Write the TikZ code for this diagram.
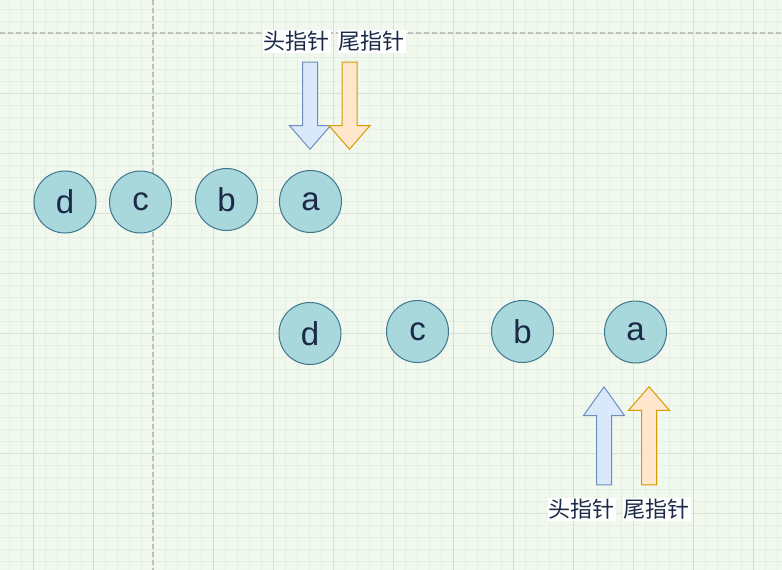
\documentclass[tikz,border=0pt]{standalone}
\usepackage{fontspec}
\setmainfont{Liberation Sans}
\newfontfamily\cjk{Noto Sans CJK SC}
\usetikzlibrary{shapes.arrows}

\definecolor{paper}{HTML}{F1F8EE}
\definecolor{minorgrid}{HTML}{E7EFE4}
\definecolor{majorgrid}{HTML}{D8E1D5}
\definecolor{seam}{HTML}{D6DAD5}
\definecolor{pagebreak}{HTML}{BEC2BC}
\definecolor{itemfill}{HTML}{A8D8DB}
\definecolor{itemline}{HTML}{3F7690}
\definecolor{ink}{HTML}{1B2A48}
\definecolor{headfill}{HTML}{DAE8FC}
\definecolor{headline}{HTML}{6C8EBF}
\definecolor{tailfill}{HTML}{FFE6CC}
\definecolor{tailline}{HTML}{D79B00}

\tikzset{
    item/.style={circle, draw=itemline, fill=itemfill, line width=1pt,
        minimum size=62pt, inner sep=0pt, text=ink,
        font=\fontsize{33}{33}\selectfont},
    ptrlabel/.style={fill=white, inner sep=1pt, text=ink,
        font=\cjk\fontsize{22}{22}\selectfont},
    pointer/.style={single arrow, line width=1pt, inner xsep=0pt,
        inner ysep=7pt, single arrow head extend=13pt, anchor=tip},
    headptr/.style={pointer, draw=headline, fill=headfill},
    tailptr/.style={pointer, draw=tailline, fill=tailfill},
}

\begin{document}
\begin{tikzpicture}[x=1pt, y=-1pt]
        \fill[paper] (0,0) rectangle (782,570);
        \useasboundingbox (0,0) rectangle (782,570);

        % grid
        \foreach \i in {9,21,...,781} \draw[minorgrid, line width=0.6pt] (\i,0) -- (\i,570);
        \foreach \i in {9,21,...,569} \draw[minorgrid, line width=0.6pt] (0,\i) -- (782,\i);
        \foreach \i in {33,93,...,781} \draw[majorgrid, line width=0.8pt] (\i,0) -- (\i,570);
        \foreach \i in {33,93,...,569} \draw[majorgrid, line width=0.8pt] (0,\i) -- (782,\i);
        \foreach \i/\a/\b in {33/315/570, 93/315/570, 213/315/570, 273/333/470,
                333/333/453, 393/350/438, 453/300/570, 513/363/570,
                573/393/570, 693/363/570, 753/347/570}
            \draw[seam, line width=1pt] (\i,\a) -- (\i,\b);
        \draw[pagebreak, line width=1.2pt, dash pattern=on 5pt off 3pt] (0,33) -- (782,33);
        \draw[pagebreak, line width=1.2pt, dash pattern=on 5pt off 3pt] (153,0) -- (153,570);

        % before
        \node[item] (d1) at (65, 202) {d};
        \node[item] (c1) at (140.5, 202) {c};
        \node[item] (b1) at (226.5, 199.5) {b};
        \node[item] (a1) at (310.5, 201.5) {a};

        \node[headptr, rotate=-90, minimum height=87pt, single arrow tip angle=82] (head1) at (310, 150) {};
        \node[tailptr, rotate=-90, minimum height=87pt, single arrow tip angle=82] (tail1) at (349.5, 150) {};
        \node[ptrlabel] (headtext1) at (296.5, 41.5) {头指针};
        \node[ptrlabel] (tailtext1) at (371.5, 41.5) {尾指针};

        % after
        \node[item] (d2) at (310, 333.5) {d};
        \node[item] (c2) at (417.5, 331.5) {c};
        \node[item] (b2) at (522.5, 331.5) {b};
        \node[item] (a2) at (635.5, 332) {a};

        \node[headptr, rotate=90, minimum height=98pt, single arrow tip angle=71] (head2) at (604, 386) {};
        \node[tailptr, rotate=90, minimum height=98pt, single arrow tip angle=82] (tail2) at (649, 386) {};
        \node[ptrlabel] (headtext2) at (581.5, 509.5) {头指针};
        \node[ptrlabel] (tailtext2) at (656.5, 509.5) {尾指针};

    \end{tikzpicture}
\end{document}
